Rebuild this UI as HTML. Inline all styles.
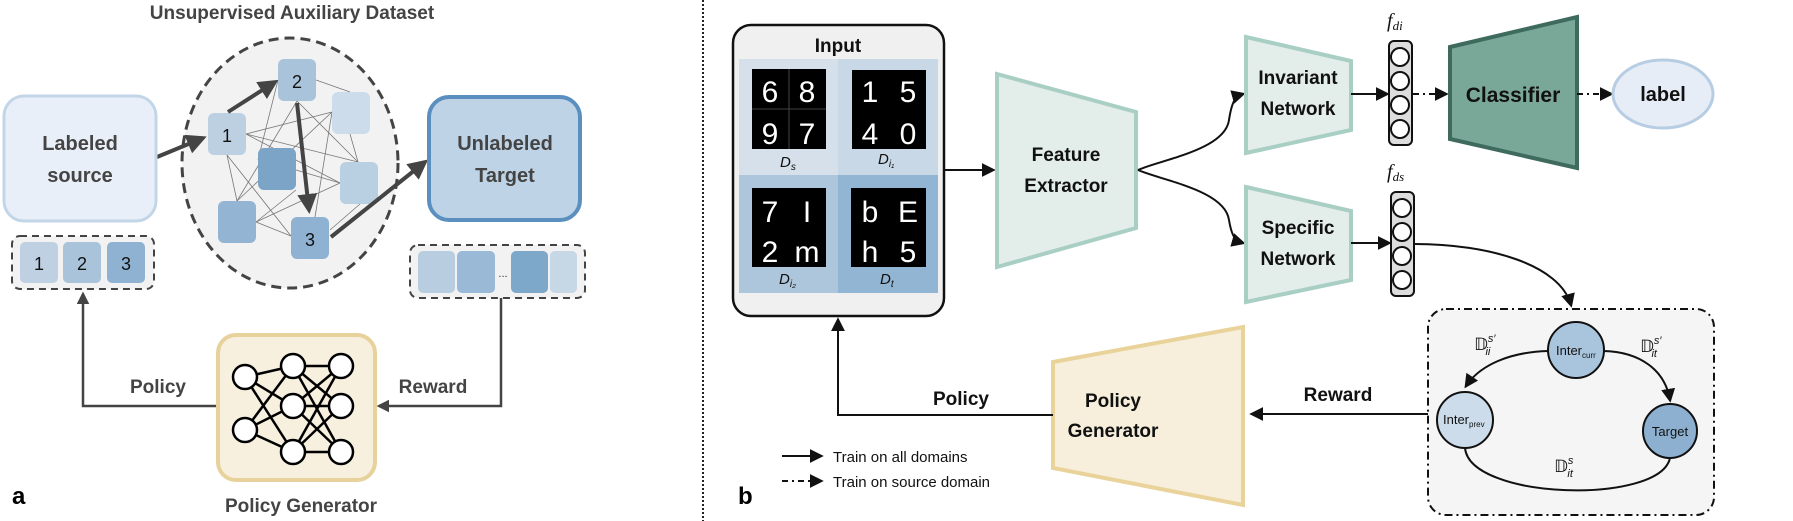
<!DOCTYPE html>
<html><head><meta charset="utf-8"><style>
html,body{margin:0;padding:0;background:#fff;}
svg{display:block;}
text{font-family:"Liberation Sans",sans-serif;}
.b{font-weight:bold;}
.m{font-family:"Liberation Serif",serif;font-style:italic;}
</style></head><body>
<svg width="1793" height="521" viewBox="0 0 1793 521" xmlns="http://www.w3.org/2000/svg">
<defs>
<marker id="ah" viewBox="0 0 10 10" refX="8" refY="5" markerWidth="7" markerHeight="7" orient="auto"><path d="M0,0 L10,5 L0,10 z" fill="#111"/></marker>
<marker id="ahg" viewBox="0 0 10 10" refX="8" refY="5" markerWidth="5" markerHeight="5" orient="auto"><path d="M0,0 L10,5 L0,10 z" fill="#444"/></marker>
<marker id="ahs" viewBox="0 0 10 10" refX="8" refY="5" markerWidth="5" markerHeight="5" orient="auto"><path d="M0,0 L10,5 L0,10 z" fill="#444"/></marker>
</defs>

<!-- PANEL A -->
<text x="292" y="19" text-anchor="middle" class="b" font-size="19" fill="#444">Unsupervised Auxiliary Dataset</text>
<ellipse cx="290" cy="163" rx="108" ry="125" fill="#f2f2f2" stroke="#444" stroke-width="3" stroke-dasharray="10,6"/>
<!-- thin lines -->
<g stroke="#777" stroke-width="0.8">
<line x1="246" y1="134" x2="332" y2="112"/><line x1="246" y1="134" x2="358" y2="162"/>
<line x1="246" y1="134" x2="340" y2="183"/><line x1="227" y1="155" x2="291" y2="236"/>
<line x1="227" y1="155" x2="237" y2="201"/><line x1="278" y1="80" x2="258" y2="160"/>
<line x1="297" y1="101" x2="237" y2="201"/><line x1="316" y1="80" x2="350" y2="92"/>
<line x1="332" y1="112" x2="237" y2="201"/><line x1="332" y1="112" x2="315" y2="217"/>
<line x1="297" y1="101" x2="358" y2="162"/><line x1="256" y1="222" x2="340" y2="183"/>
<line x1="256" y1="222" x2="291" y2="236"/><line x1="296" y1="170" x2="340" y2="183"/>
<line x1="330" y1="230" x2="360" y2="204"/><line x1="350" y1="134" x2="358" y2="162"/>
<line x1="296" y1="190" x2="256" y2="222"/>
</g>
<rect x="208" y="113" width="38" height="42" rx="6" fill="#bcd0e2"/>
<rect x="278" y="59" width="38" height="42" rx="6" fill="#a9c3da"/>
<rect x="332" y="92" width="38" height="42" rx="6" fill="#cddcea"/>
<rect x="258" y="148" width="38" height="42" rx="6" fill="#7ba4c7"/>
<rect x="340" y="162" width="38" height="42" rx="6" fill="#b9cfe2"/>
<rect x="218" y="201" width="38" height="42" rx="6" fill="#93b5d3"/>
<rect x="291" y="217" width="38" height="42" rx="6" fill="#8fb2d2"/>
<g font-size="18" fill="#111" text-anchor="middle">
<text x="227" y="142">1</text><text x="297" y="88">2</text><text x="310" y="246">3</text></g>
<g stroke="#444" stroke-width="4" marker-end="url(#ahg)" fill="none">
<line x1="157" y1="157" x2="203" y2="138"/>
<line x1="228" y1="112" x2="275" y2="82"/>
<line x1="297" y1="103" x2="309" y2="210"/>
<line x1="331" y1="237" x2="425" y2="162"/>
</g>
<rect x="4" y="96" width="152" height="125" rx="20" fill="#e9eff8" stroke="#c3d6e8" stroke-width="3"/>
<text x="80" y="150" text-anchor="middle" class="b" font-size="20" fill="#444">Labeled</text>
<text x="80" y="182" text-anchor="middle" class="b" font-size="20" fill="#444">source</text>
<rect x="429" y="97" width="151" height="123" rx="20" fill="#bfd3e6" stroke="#5b8fbf" stroke-width="4"/>
<text x="505" y="150" text-anchor="middle" class="b" font-size="20" fill="#444">Unlabeled</text>
<text x="505" y="182" text-anchor="middle" class="b" font-size="20" fill="#444">Target</text>
<!-- left bar -->
<rect x="12" y="236" width="142" height="53" rx="8" fill="#f2f2f2" stroke="#444" stroke-width="2" stroke-dasharray="7,5"/>
<rect x="20" y="242" width="38" height="41" rx="5" fill="#bed0e2"/>
<rect x="63" y="242" width="38" height="41" rx="5" fill="#a9c3da"/>
<rect x="107" y="242" width="38" height="41" rx="5" fill="#8fb2d2"/>
<g font-size="18" fill="#111" text-anchor="middle"><text x="39" y="270">1</text><text x="82" y="270">2</text><text x="126" y="270">3</text></g>
<!-- right bar -->
<rect x="410" y="245" width="175" height="53" rx="8" fill="#f2f2f2" stroke="#444" stroke-width="2" stroke-dasharray="7,5"/>
<rect x="418" y="251" width="37" height="42" rx="5" fill="#b9cde0"/>
<rect x="457" y="251" width="38" height="42" rx="5" fill="#99b9d6"/>
<text x="503" y="277" font-size="11" text-anchor="middle" fill="#333">...</text>
<rect x="511" y="251" width="37" height="42" rx="5" fill="#7ea8ca"/>
<rect x="550" y="251" width="27" height="42" rx="5" fill="#c6d7e6"/>
<!-- policy generator a -->
<polyline points="217,406 83,406 83,294" fill="none" stroke="#444" stroke-width="2.5" marker-end="url(#ahs)"/>
<polyline points="501,298 501,406 379,406" fill="none" stroke="#444" stroke-width="2.5" marker-end="url(#ahs)"/>
<text x="158" y="393" text-anchor="middle" class="b" font-size="19" fill="#444">Policy</text>
<text x="433" y="393" text-anchor="middle" class="b" font-size="19" fill="#444">Reward</text>
<rect x="218" y="335" width="157" height="145" rx="18" fill="#f7f0de" stroke="#e8d29c" stroke-width="4"/>
<g stroke="#000" stroke-width="2.5">
<line x1="245" y1="377" x2="293" y2="366"/><line x1="245" y1="377" x2="293" y2="406"/><line x1="245" y1="377" x2="293" y2="452"/>
<line x1="245" y1="430" x2="293" y2="366"/><line x1="245" y1="430" x2="293" y2="406"/><line x1="245" y1="430" x2="293" y2="452"/>
<line x1="293" y1="366" x2="341" y2="366"/><line x1="293" y1="366" x2="341" y2="406"/><line x1="293" y1="366" x2="341" y2="452"/>
<line x1="293" y1="406" x2="341" y2="366"/><line x1="293" y1="406" x2="341" y2="406"/><line x1="293" y1="406" x2="341" y2="452"/>
<line x1="293" y1="452" x2="341" y2="366"/><line x1="293" y1="452" x2="341" y2="406"/><line x1="293" y1="452" x2="341" y2="452"/>
</g>
<g fill="#fff" stroke="#000" stroke-width="2.5">
<circle cx="245" cy="377" r="12"/><circle cx="245" cy="430" r="12"/>
<circle cx="293" cy="366" r="12"/><circle cx="293" cy="406" r="12"/><circle cx="293" cy="452" r="12"/>
<circle cx="341" cy="366" r="12"/><circle cx="341" cy="406" r="12"/><circle cx="341" cy="452" r="12"/>
</g>
<text x="301" y="512" text-anchor="middle" class="b" font-size="19" fill="#444">Policy Generator</text>
<text x="12" y="504" class="b" font-size="24" fill="#000">a</text>

<!-- divider -->
<line x1="703" y1="0" x2="703" y2="521" stroke="#222" stroke-width="2" stroke-dasharray="2,2"/>

<!-- PANEL B -->
<rect x="733" y="25" width="211" height="291" rx="18" fill="#f0f0f0" stroke="#111" stroke-width="2.5"/>
<text x="838" y="52" text-anchor="middle" class="b" font-size="19" fill="#111">Input</text>
<rect x="739" y="59" width="99" height="116" fill="#d6e0ea"/>
<rect x="838" y="59" width="100" height="116" fill="#c8d8e6"/>
<rect x="739" y="175" width="99" height="118" fill="#aec6dc"/>
<rect x="838" y="175" width="100" height="118" fill="#93b5d4"/>
<g fill="#000"><rect x="752" y="69" width="74" height="80"/><rect x="852" y="70" width="74" height="79"/><rect x="752" y="188" width="74" height="79"/><rect x="851" y="188" width="75" height="79"/></g>
<g stroke="#555" stroke-width="0.8"><line x1="789" y1="69" x2="789" y2="149"/><line x1="752" y1="109" x2="826" y2="109"/></g>
<g fill="#fff" font-size="30" text-anchor="middle" font-family="Liberation Sans,sans-serif">
<text x="770" y="102">6</text><text x="807" y="102">8</text><text x="770" y="144">9</text><text x="807" y="144">7</text>
<text x="870" y="102">1</text><text x="908" y="102">5</text><text x="870" y="144">4</text><text x="908" y="144">0</text>
<text x="770" y="222">7</text><text x="807" y="222">I</text><text x="770" y="262">2</text><text x="807" y="262">m</text>
<text x="870" y="222">b</text><text x="908" y="222">E</text><text x="870" y="262">h</text><text x="908" y="262">5</text>
</g>
<g font-size="15" fill="#111" class="m">
<text x="780" y="167">D<tspan font-size="10" dy="3">s</tspan></text>
<text x="878" y="164">D<tspan font-size="10" dy="3">i₁</tspan></text>
<text x="779" y="284">D<tspan font-size="10" dy="3">i₂</tspan></text>
<text x="880" y="284">D<tspan font-size="10" dy="3">t</tspan></text>
</g>
<line x1="944" y1="170" x2="993" y2="170" stroke="#111" stroke-width="2" marker-end="url(#ah)"/>
<polygon points="997,74 1136,112 1136,228 997,267" fill="#e3ede9" stroke="#a9cfc4" stroke-width="4"/>
<text x="1066" y="161" text-anchor="middle" class="b" font-size="19" fill="#111">Feature</text>
<text x="1066" y="192" text-anchor="middle" class="b" font-size="19" fill="#111">Extractor</text>
<path d="M1138,170 C1160,160 1225,150 1229,120 C1232,100 1236,96 1243,94" fill="none" stroke="#111" stroke-width="2" marker-end="url(#ah)"/>
<path d="M1138,170 C1160,180 1225,190 1229,220 C1232,238 1236,241 1243,243" fill="none" stroke="#111" stroke-width="2" marker-end="url(#ah)"/>
<polygon points="1246,37 1351,61 1351,130 1246,153" fill="#e3ede9" stroke="#a9cfc4" stroke-width="4"/>
<text x="1298" y="84" text-anchor="middle" class="b" font-size="19" fill="#111">Invariant</text>
<text x="1298" y="115" text-anchor="middle" class="b" font-size="19" fill="#111">Network</text>
<polygon points="1246,187 1351,211 1351,280 1246,302" fill="#e3ede9" stroke="#a9cfc4" stroke-width="4"/>
<text x="1298" y="234" text-anchor="middle" class="b" font-size="19" fill="#111">Specific</text>
<text x="1298" y="265" text-anchor="middle" class="b" font-size="19" fill="#111">Network</text>
<line x1="1351" y1="94" x2="1387" y2="94" stroke="#111" stroke-width="2" marker-end="url(#ah)"/>
<line x1="1351" y1="243" x2="1389" y2="243" stroke="#111" stroke-width="2" marker-end="url(#ah)"/>
<rect x="1389" y="41" width="23" height="104" rx="5" fill="#ddd" stroke="#111" stroke-width="2"/>
<rect x="1391" y="192" width="23" height="104" rx="5" fill="#ddd" stroke="#111" stroke-width="2"/>
<g fill="#fff" stroke="#111" stroke-width="2">
<circle cx="1400" cy="57" r="9"/><circle cx="1400" cy="81" r="9"/><circle cx="1400" cy="105" r="9"/><circle cx="1400" cy="129" r="9"/>
<circle cx="1402" cy="208" r="9"/><circle cx="1402" cy="232" r="9"/><circle cx="1402" cy="256" r="9"/><circle cx="1402" cy="280" r="9"/>
</g>
<text x="1387" y="27" class="m" font-size="20" fill="#111">f<tspan font-size="13" dy="3">di</tspan></text>
<text x="1387" y="178" class="m" font-size="20" fill="#111">f<tspan font-size="13" dy="3">ds</tspan></text>
<line x1="1413" y1="94" x2="1446" y2="94" stroke="#111" stroke-width="2" stroke-dasharray="6,4,2,4" marker-end="url(#ah)"/>
<polygon points="1450,47 1577,17 1577,168 1450,139" fill="#7aa898" stroke="#3f6a5e" stroke-width="4"/>
<text x="1513" y="102" text-anchor="middle" class="b" font-size="21" fill="#111">Classifier</text>
<line x1="1577" y1="94" x2="1611" y2="94" stroke="#111" stroke-width="2" stroke-dasharray="6,4,2,4" marker-end="url(#ah)"/>
<ellipse cx="1663" cy="94" rx="50" ry="34" fill="#e6edf6" stroke="#b7cde3" stroke-width="3"/>
<text x="1663" y="101" text-anchor="middle" class="b" font-size="20" fill="#111">label</text>
<path d="M1414,244 C1490,244 1560,265 1571,305" fill="none" stroke="#111" stroke-width="2" marker-end="url(#ah)"/>
<rect x="1428" y="309" width="286" height="206" rx="18" fill="#f5f5f5" stroke="#111" stroke-width="2" stroke-dasharray="8,4,2,4"/>
<path d="M1548,351 C1510,352 1480,365 1466,386" fill="none" stroke="#111" stroke-width="2" marker-end="url(#ah)"/>
<path d="M1604,351 C1640,352 1665,370 1670,400" fill="none" stroke="#111" stroke-width="2" marker-end="url(#ah)"/>
<path d="M1465,448 C1470,500 1660,505 1670,458" fill="none" stroke="#111" stroke-width="2"/>
<circle cx="1576" cy="350" r="28" fill="#a9c5de" stroke="#111" stroke-width="2"/>
<circle cx="1465" cy="420" r="28" fill="#cddcea" stroke="#111" stroke-width="2"/>
<circle cx="1670" cy="431" r="27" fill="#8db0d0" stroke="#111" stroke-width="2"/>
<text x="1556" y="355" font-size="13" fill="#111">Inter<tspan font-size="8" dy="3">curr</tspan></text>
<text x="1443" y="424" font-size="13" fill="#111">Inter<tspan font-size="8" dy="3">prev</tspan></text>
<text x="1670" y="436" text-anchor="middle" font-size="13" fill="#111">Target</text>
<g font-family="DejaVu Serif,serif" fill="#111">
<text x="1474" y="350" font-size="17">𝔻<tspan font-size="11" dy="-8" font-style="italic">s′</tspan><tspan font-size="11" dx="-10" dy="13" font-style="italic">ii</tspan></text>
<text x="1640" y="352" font-size="17">𝔻<tspan font-size="11" dy="-8" font-style="italic">s′</tspan><tspan font-size="11" dx="-10" dy="13" font-style="italic">it</tspan></text>
<text x="1554" y="472" font-size="17">𝔻<tspan font-size="11" dy="-8" font-style="italic">s</tspan><tspan font-size="11" dx="-6" dy="13" font-style="italic">it</tspan></text>
</g>
<line x1="1428" y1="414" x2="1252" y2="414" stroke="#111" stroke-width="2" marker-end="url(#ah)"/>
<text x="1338" y="401" text-anchor="middle" class="b" font-size="19" fill="#111">Reward</text>
<polygon points="1053,362 1243,327 1243,505 1053,468" fill="#f7efdc" stroke="#e9d39b" stroke-width="4"/>
<text x="1113" y="407" text-anchor="middle" class="b" font-size="19" fill="#111">Policy</text>
<text x="1113" y="437" text-anchor="middle" class="b" font-size="19" fill="#111">Generator</text>
<polyline points="1053,415 838,415 838,320" fill="none" stroke="#111" stroke-width="2" marker-end="url(#ah)"/>
<text x="961" y="405" text-anchor="middle" class="b" font-size="19" fill="#111">Policy</text>
<line x1="782" y1="456" x2="821" y2="456" stroke="#111" stroke-width="2" marker-end="url(#ah)"/>
<text x="833" y="462" font-size="15" fill="#111">Train on all domains</text>
<line x1="782" y1="481" x2="821" y2="481" stroke="#111" stroke-width="2" stroke-dasharray="6,4,2,4" marker-end="url(#ah)"/>
<text x="833" y="487" font-size="15" fill="#111">Train on source domain</text>
<text x="738" y="504" class="b" font-size="24" fill="#000">b</text>
</svg>
</body></html>
